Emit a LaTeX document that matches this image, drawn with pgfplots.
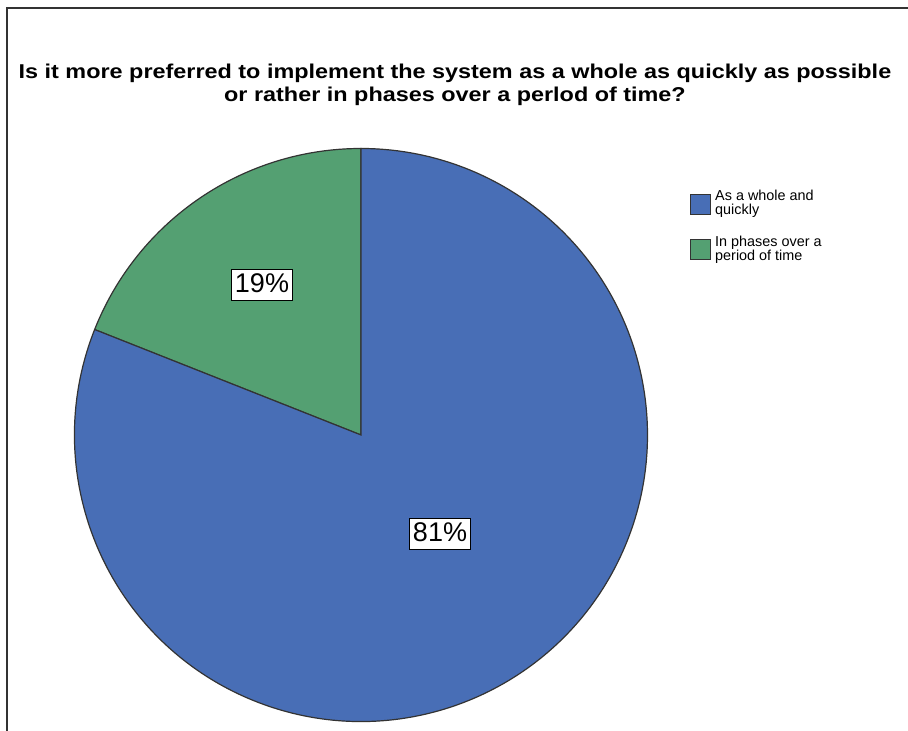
\documentclass[border=0pt]{standalone}
\usepackage{pgfplots}
\usepackage{pgfplotstable}
\pgfplotsset{compat=1.18}
\usepackage{fontspec}
\setmainfont{Liberation Sans}
\definecolor{pieblue}{RGB}{72,110,182}
\definecolor{piegreen}{RGB}{84,160,114}

\pgfplotstableread{
label value
whole 81
phases 19
}\piedata

\pgfplotstablegetelem{0}{value}\of\piedata
\let\valWhole\pgfplotsretval
\pgfplotstablegetelem{1}{value}\of\piedata
\let\valPhases\pgfplotsretval
\pgfmathsetmacro{\aStart}{90}
\pgfmathsetmacro{\aMid}{90+360*\valPhases/100}
\pgfmathsetmacro{\aEnd}{450}

\begin{document}
\begin{tikzpicture}
\begin{axis}[
  x=0.5pt, y=0.5pt,
  xmin=0, xmax=908, ymin=0, ymax=731,
  hide axis, clip=false,
  legend cell align=left,
  legend image code/.code={\draw[#1] (0pt,-5pt) rectangle (10pt,5pt);},
  legend style={at={(axis cs:690,545)}, anchor=north west, draw=none, fill=none,
    font=\fontsize{7.2}{7}\selectfont, row sep=5pt, inner sep=0pt,
    cells={align=left}},
]
\coordinate (BL) at (axis cs:0,0);
\coordinate (TR) at (axis cs:908,731);
% frame
\draw[black!80, line width=0.8pt] (axis cs:7,0) -- (axis cs:7,723) -- (axis cs:908,723);
% title
\node[align=center] at (axis cs:455,646)
  {\scalebox{1.17}[1]{\begin{tabular}{@{}c@{}}\bfseries\fontsize{10}{9.4}\selectfont Is it more preferred to implement the system as a whole as quickly as possible\\[-0.5pt]
   \bfseries\fontsize{10}{9.4}\selectfont or rather in phases over a perlod of time?\end{tabular}}};
% sectors
\fill[piegreen, draw=black!80, line width=0.6pt] (axis cs:361,296) -- ++(\aStart:143.25pt)
  arc[start angle=\aStart, end angle=\aMid, radius=143.25pt] -- cycle;
\fill[pieblue, draw=black!80, line width=0.6pt] (axis cs:361,296) -- ++(\aMid:143.25pt)
  arc[start angle=\aMid, end angle=\aEnd, radius=143.25pt] -- cycle;
% labels
\node[draw=black, fill=white, line width=0.5pt, inner xsep=1.5pt, inner ysep=4pt,
  text height=0.72em, text depth=0pt, font=\fontsize{13.5}{13.5}\selectfont]
  at (axis cs:262,446) {\valPhases\%};
\node[draw=black, fill=white, line width=0.5pt, inner xsep=1.5pt, inner ysep=4pt,
  text height=0.72em, text depth=0pt, font=\fontsize{13.5}{13.5}\selectfont]
  at (axis cs:440,197) {\valWhole\%};
\addlegendimage{fill=pieblue, draw=black!80}
\addlegendentry{As a whole and\\quickly}
\addlegendimage{fill=piegreen, draw=black!80}
\addlegendentry{In phases over a\\period of time}
\end{axis}
\pgfresetboundingbox
\path[use as bounding box] (BL) rectangle (TR);
\end{tikzpicture}
\end{document}
